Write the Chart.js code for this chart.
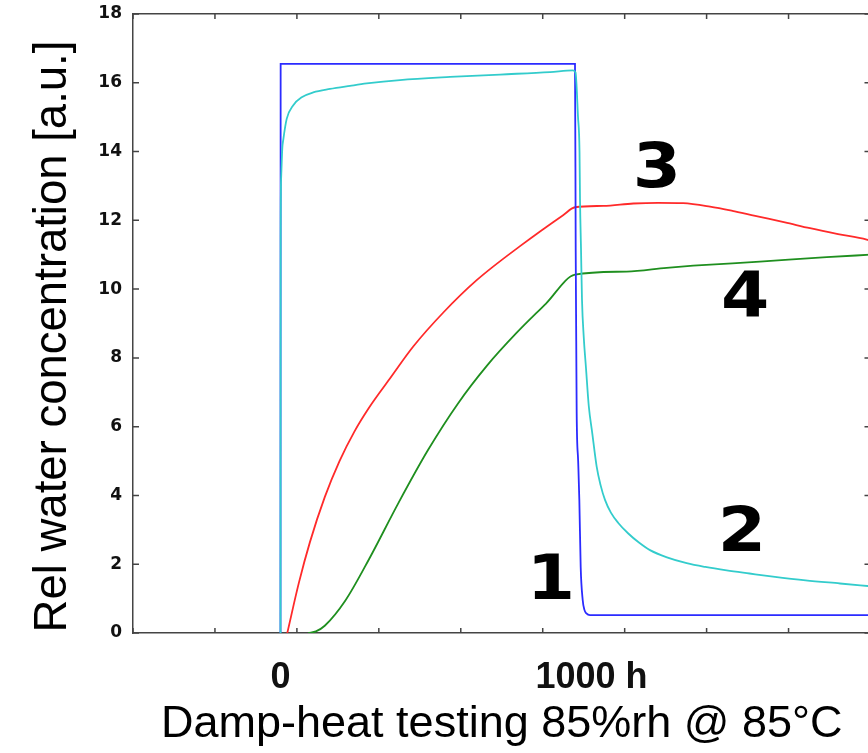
<!DOCTYPE html>
<html><head><meta charset="utf-8">
<script src="https://cdn.jsdelivr.net/npm/chart.js@4/dist/chart.umd.min.js"></script>
<style>
html,body{margin:0;padding:0;background:#fff;overflow:hidden;width:868px;height:753px}
#wrap{width:880px;height:753px}
</style>
</head><body>
<div id="wrap"><canvas id="c" width="880" height="753"></canvas></div>
<script>
// ---- axis ranges & ticks (hours / relative units) ----
const xMin = -500, xMax = 2000;
const yMin = 0, yMax = 18, yStep = 2;
const xTickHours = [-500, -222.2, 55.6, 333.3, 611.1, 888.9, 1166.7, 1444.4, 1722.2, 2000];
const xLabelValues = [0, 1000];
const xLabelTexts = ['0', '1000 h'];
const xTitle = 'Damp-heat testing 85%rh @ 85°C';
const yTitle = 'Rel water concentration [a.u.]';

// ---- curve 1 (blue) ----
const blueX = [0, 0.5, 998.3, 1000.7, 1002.5, 1004, 1009, 1013, 1017.6, 1024.4, 1030, 1037, 1049, 2000];
const blueY = [0, 16.55, 16.55, 11.1, 8.5, 6.4, 5.0, 3.87, 1.92, 0.96, 0.68, 0.57, 0.52, 0.52];

// ---- curve 2 (cyan) ----
const cyanX = [0, 0.5, 2, 6.1, 9.5, 21, 43.4, 71.9, 111, 167.8, 235.6, 292, 405, 574.6, 744, 913.6, 991.5,
               1000, 1008.5, 1013.6, 1015.3, 1018.6, 1022, 1028, 1035.6, 1045, 1057, 1071.9, 1085, 1100, 1120, 1145, 1178,
               1215, 1252.5, 1310, 1376.9, 1440, 1512.5, 1590, 1669.5, 1780, 1896.6, 2000];
const cyanY = [0, 11.5, 13.2, 14.1, 14.35, 14.95, 15.35, 15.58, 15.72, 15.82, 15.91, 15.98, 16.08, 16.17, 16.24, 16.31, 16.36,
               16.3, 15.0, 14.0, 12.6, 11.2, 9.7, 8.6, 7.7, 6.6, 5.8, 4.83, 4.3, 3.87, 3.5, 3.2, 2.9,
               2.63, 2.41, 2.2, 2.03, 1.92, 1.82, 1.73, 1.64, 1.53, 1.44, 1.36];

// ---- curve 3 (red) ----
const redX = [23, 62, 100, 150, 200, 250, 300, 371, 450, 552, 665, 812, 958, 998.3, 1094, 1196, 1280, 1365, 1456, 1540, 1625, 1710, 1795, 1890, 1987, 2000];
const redY = [0, 1.45, 2.65, 3.95, 5.0, 5.85, 6.55, 7.4, 8.33, 9.32, 10.26, 11.25, 12.15, 12.38, 12.42, 12.49, 12.51, 12.5, 12.4, 12.26, 12.1, 11.94, 11.77, 11.6, 11.44, 11.4];

// ---- curve 4 (green) ----
const greenX = [94.2, 120, 150, 220, 300, 400, 500, 600, 700, 800, 900, 998.3, 1173.6, 1309, 1399, 1625, 1851.5, 2000];
const greenY = [0, 0.045, 0.21, 0.945, 2.145, 3.785, 5.32, 6.655, 7.775, 8.725, 9.58, 10.42, 10.51, 10.62, 10.68, 10.80, 10.93, 11.0];

// ---- curve annotations ----
const annotationTexts = ['1', '2', '3', '4'];
const annotationX = [917, 1564, 1276, 1575];
const annotationY = [1.47, 2.85, 13.45, 9.70];

function pts(xs, ys) { return xs.map((x, i) => ({ x: x, y: ys[i] })); }

const AXIS_COLOR = '#444';

const extrasPlugin = {
  id: 'extras',
  afterDraw(chart) {
    const ctx = chart.ctx, a = chart.chartArea, x = chart.scales.x, y = chart.scales.y;
    ctx.save();
    // inward tick marks
    ctx.strokeStyle = AXIS_COLOR;
    ctx.lineWidth = 1.5;
    ctx.beginPath();
    xTickHours.forEach(v => {
      const p = x.getPixelForValue(v);
      ctx.moveTo(p, a.bottom); ctx.lineTo(p, a.bottom - 5);
      ctx.moveTo(p, a.top); ctx.lineTo(p, a.top + 5);
    });
    for (let v = yMin; v <= yMax; v += yStep) {
      const p = y.getPixelForValue(v);
      ctx.moveTo(a.left, p); ctx.lineTo(a.left + 6, p);
      ctx.moveTo(a.right, p); ctx.lineTo(a.right - 6, p);
    }
    ctx.stroke();
    // x labels: numeric part centred on its value
    ctx.fillStyle = '#111';
    ctx.font = 'bold 36px "Liberation Sans", Arial, sans-serif';
    ctx.textAlign = 'left';
    ctx.textBaseline = 'alphabetic';
    xLabelValues.forEach((v, i) => {
      const t = xLabelTexts[i];
      const num = t.split(' ')[0];
      const w = ctx.measureText(num).width;
      const p = x.getPixelForValue(v);
      ctx.fillText(t, p - w / 2, a.bottom + 55);
    });
    // y axis title (slightly below the axis centre, as in the original)
    ctx.fillStyle = '#000';
    ctx.font = '45.5px "Liberation Sans", Arial, sans-serif';
    ctx.textAlign = 'center';
    ctx.textBaseline = 'alphabetic';
    ctx.save();
    ctx.translate(a.left - 67, (a.top + a.bottom) / 2 + 13);
    ctx.rotate(-Math.PI / 2);
    ctx.fillText(yTitle, 0, 0);
    ctx.restore();
    // curve numbers
    ctx.font = 'bold 62px "DejaVu Sans", sans-serif';
    ctx.textAlign = 'center';
    ctx.textBaseline = 'middle';
    annotationTexts.forEach((t, i) => {
      const px = x.getPixelForValue(annotationX[i]);
      const py = y.getPixelForValue(annotationY[i]);
      ctx.save();
      ctx.translate(px, py);
      ctx.scale(1.12, 1);
      ctx.fillText(t, 0, 0);
      ctx.restore();
    });
    ctx.restore();
  }
};

const lineOpts = { pointRadius: 0, borderWidth: 1.8, fill: false, cubicInterpolationMode: 'monotone' };
const gridOff = { display: true, drawOnChartArea: false, drawTicks: false };
const border = { display: true, color: AXIS_COLOR, width: 1.5 };
function noPad(s) { s.paddingTop = 0; s.paddingBottom = 0; s.paddingLeft = 0; s.paddingRight = 0; }

new Chart(document.getElementById('c'), {
  type: 'line',
  data: {
    datasets: [
      Object.assign({ label: '1', data: pts(blueX, blueY), borderColor: '#2b2bff', order: 1 }, lineOpts),
      Object.assign({ label: '2', data: pts(cyanX, cyanY), borderColor: '#33cccc', order: 0 }, lineOpts),
      Object.assign({ label: '3', data: pts(redX, redY), borderColor: '#ff2a2a', order: 2 }, lineOpts),
      Object.assign({ label: '4', data: pts(greenX, greenY), borderColor: '#1f8f1f', order: 3 }, lineOpts)
    ]
  },
  options: {
    responsive: false,
    animation: false,
    layout: { padding: 0 },
    plugins: { legend: { display: false }, tooltip: { enabled: false } },
    scales: {
      x: {
        type: 'linear', position: 'bottom', min: xMin, max: xMax,
        ticks: { display: false }, grid: gridOff, border: border,
        title: { display: true, text: xTitle, color: '#000',
                 font: { family: '"Liberation Sans", Arial, sans-serif', size: 45 }, padding: { top: 0, bottom: 1 } },
        afterFit(s) { s.height = 120; noPad(s); }
      },
      x2: {
        type: 'linear', position: 'top', min: xMin, max: xMax,
        ticks: { display: false }, grid: gridOff, border: border,
        afterFit(s) { s.height = 14; noPad(s); }
      },
      y: {
        type: 'linear', position: 'left', min: yMin, max: yMax,
        ticks: { stepSize: yStep, color: '#111', padding: 11,
                 font: { family: '"DejaVu Sans", sans-serif', weight: 'bold', size: 17 } },
        grid: gridOff, border: border,
        afterFit(s) { s.width = 133; noPad(s); }
      },
      y2: {
        type: 'linear', position: 'right', min: yMin, max: yMax,
        ticks: { display: false }, grid: gridOff, border: border,
        afterFit(s) { s.width = 9.5; noPad(s); }
      }
    }
  },
  plugins: [extrasPlugin]
});
</script>
</body></html>
